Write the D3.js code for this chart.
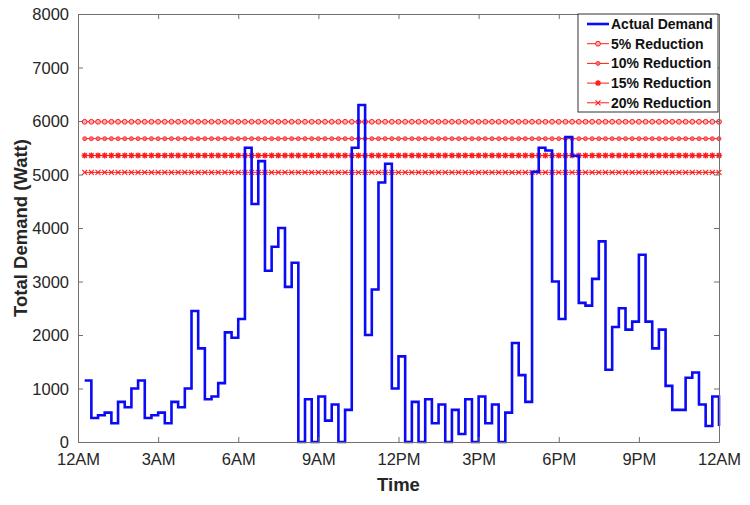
<!DOCTYPE html>
<html>
<head>
<meta charset="utf-8">
<script src="https://cdn.jsdelivr.net/npm/d3@7"></script>
<style>
  body { margin: 0; background: #fff; }
  svg { display: block; font-family: "Liberation Sans", Arial, sans-serif; }
  .tick text { fill: #262626; font-size: 16.5px; }
  .axis path, .axis line { stroke: #707070; }
</style>
</head>
<body>
<svg id="chart" width="750" height="505"></svg>
<script>
// x ticks, every 3 hours
var hourTicks = [0, 3, 6, 9, 12, 15, 18, 21, 24];
var hourLabels = ["12AM", "3AM", "6AM", "9AM", "12PM", "3PM", "6PM", "9PM", "12AM"];
var demandTicks = [0, 1000, 2000, 3000, 4000, 5000, 6000, 7000, 8000];

// actual demand, one value per 15 minutes (12:15AM .. 12AM)
var demand = [
  1150, 450, 500, 550, 350, 750, 650, 1000,
  1150, 450, 500, 550, 350, 750, 650, 1000,
  2450, 1750, 800, 850, 1100, 2050, 1950, 2300,
  5500, 4450, 5250, 3200, 3650, 4000, 2900, 3350,
  0, 800, 0, 850, 400, 700, 0, 600,
  5500, 6300, 2000, 2850, 4850, 5200, 1000, 1600,
  0, 750, 0, 800, 350, 700, 0, 600,
  150, 800, 0, 850, 350, 700, 0, 550,
  1850, 1250, 750, 5050, 5500, 5450, 3000, 2300,
  5700, 5350, 2600, 2550, 3050, 3750, 1350, 2150,
  2500, 2100, 2250, 3500, 2250, 1750, 2100, 1050,
  600, 600, 1200, 1300, 700, 300, 850, 300
];

// peak-reduction limits (Watt)
var reductionNames = ["5% Reduction", "10% Reduction", "15% Reduction", "20% Reduction"];
var reductionLevels = [5985, 5670, 5355, 5040];
var reductionMarkers = ["circle", "dot", "star", "cross"];

var margin = { top: 14, right: 31, bottom: 63, left: 78 };
var svg = d3.select("#chart");
var W = +svg.attr("width"), H = +svg.attr("height");
var w = W - margin.left - margin.right, h = H - margin.top - margin.bottom;

var x = d3.scaleLinear().domain([0, 24]).range([0, w]);
var y = d3.scaleLinear().domain([0, 8000]).range([h, 0]);

var g = svg.append("g").attr("transform", "translate(" + margin.left + "," + margin.top + ")");

var times = demand.map(function(d, i) { return (i + 1) * 0.25; });

// reduction lines
var red = "#ff1a1a";
function drawMarker(sel, kind) {
  switch (kind) {
    case "circle":
      sel.append("circle").attr("r", 2.4).attr("fill", "#ffb0b0").attr("stroke", red).attr("stroke-width", 1);
      break;
    case "dot":
      sel.append("circle").attr("r", 2).attr("fill", "#ff7070").attr("stroke", red).attr("stroke-width", 0.8);
      break;
    case "star":
      sel.append("path").attr("d", "M-3,0H3M0,-3V3M-2.2,-2.2L2.2,2.2M-2.2,2.2L2.2,-2.2")
        .attr("stroke", red).attr("stroke-width", 1.3);
      break;
    case "cross":
      sel.append("path").attr("d", "M-2.5,-2.5L2.5,2.5M-2.5,2.5L2.5,-2.5")
        .attr("stroke", red).attr("stroke-width", 1.1);
      break;
  }
}

reductionLevels.forEach(function(level, k) {
  var lg = g.append("g").attr("class", "reduction");
  lg.append("line")
    .attr("x1", x(times[0])).attr("x2", x(times[times.length - 1]))
    .attr("y1", y(level)).attr("y2", y(level))
    .attr("stroke", red).attr("stroke-width", 1);
  lg.selectAll("g.m").data(times).enter().append("g")
    .attr("class", "m")
    .attr("transform", function(t) { return "translate(" + x(t) + "," + y(level) + ")"; })
    .each(function() { drawMarker(d3.select(this), reductionMarkers[k]); });
});

// actual demand stairs
var line = d3.line()
  .x(function(d, i) { return x(times[i]); })
  .y(function(d) { return y(d); })
  .curve(d3.curveStepAfter);

g.append("path").datum(demand)
  .attr("d", line)
  .attr("fill", "none")
  .attr("stroke", "#0a0af5")
  .attr("stroke-width", 2.6);

// axes (box with inward ticks)
var xAxis = g.append("g").attr("class", "axis").attr("transform", "translate(0," + h + ")")
  .call(d3.axisBottom(x).tickValues(hourTicks).tickSizeInner(-5).tickSizeOuter(0).tickPadding(11)
    .tickFormat(function(d, i) { return hourLabels[i]; }));
var yAxis = g.append("g").attr("class", "axis")
  .call(d3.axisLeft(y).tickValues(demandTicks).tickSizeInner(-5).tickSizeOuter(0).tickPadding(9)
    .tickFormat(d3.format("d")));
g.append("g").attr("class", "axis")
  .call(d3.axisTop(x).tickValues(hourTicks).tickSizeInner(-5).tickSizeOuter(0).tickFormat(""));
g.append("g").attr("class", "axis").attr("transform", "translate(" + w + ",0)")
  .call(d3.axisRight(y).tickValues(demandTicks).tickSizeInner(-5).tickSizeOuter(0).tickFormat(""));
yAxis.selectAll(".tick text").attr("dy", "0.36em");

// axis titles
svg.append("text")
  .attr("x", margin.left + w / 2).attr("y", 491)
  .attr("text-anchor", "middle")
  .attr("font-weight", "bold").attr("font-size", 18.5).attr("fill", "#262626")
  .text("Time");
svg.append("text")
  .attr("transform", "translate(27," + (margin.top + h / 2) + ") rotate(-90)")
  .attr("text-anchor", "middle")
  .attr("font-weight", "bold").attr("font-size", 18.5).attr("fill", "#262626")
  .text("Total Demand (Watt)");

// legend
var lx = 578, ly = 14, lw = 140, lh = 98;
var legend = svg.append("g");
legend.append("rect").attr("x", lx).attr("y", ly).attr("width", lw).attr("height", lh)
  .attr("fill", "#fff").attr("stroke", "#333").attr("stroke-width", 1);
var entries = ["Actual Demand"].concat(reductionNames);
entries.forEach(function(name, k) {
  var ey = ly + 10 + k * 19.7;
  var e = legend.append("g");
  if (k === 0) {
    e.append("line").attr("x1", lx + 9).attr("x2", lx + 31).attr("y1", ey).attr("y2", ey)
      .attr("stroke", "#0a0af5").attr("stroke-width", 2.6);
  } else {
    e.append("line").attr("x1", lx + 9).attr("x2", lx + 31).attr("y1", ey).attr("y2", ey)
      .attr("stroke", red).attr("stroke-width", 1);
    var m = e.append("g").attr("transform", "translate(" + (lx + 20) + "," + ey + ")");
    drawMarker(m, reductionMarkers[k - 1]);
  }
  e.append("text").attr("x", lx + 33).attr("y", ey).attr("dy", "0.36em")
    .attr("font-weight", "bold").attr("font-size", 14).attr("fill", "#111")
    .text(name);
});
</script>
</body>
</html>
